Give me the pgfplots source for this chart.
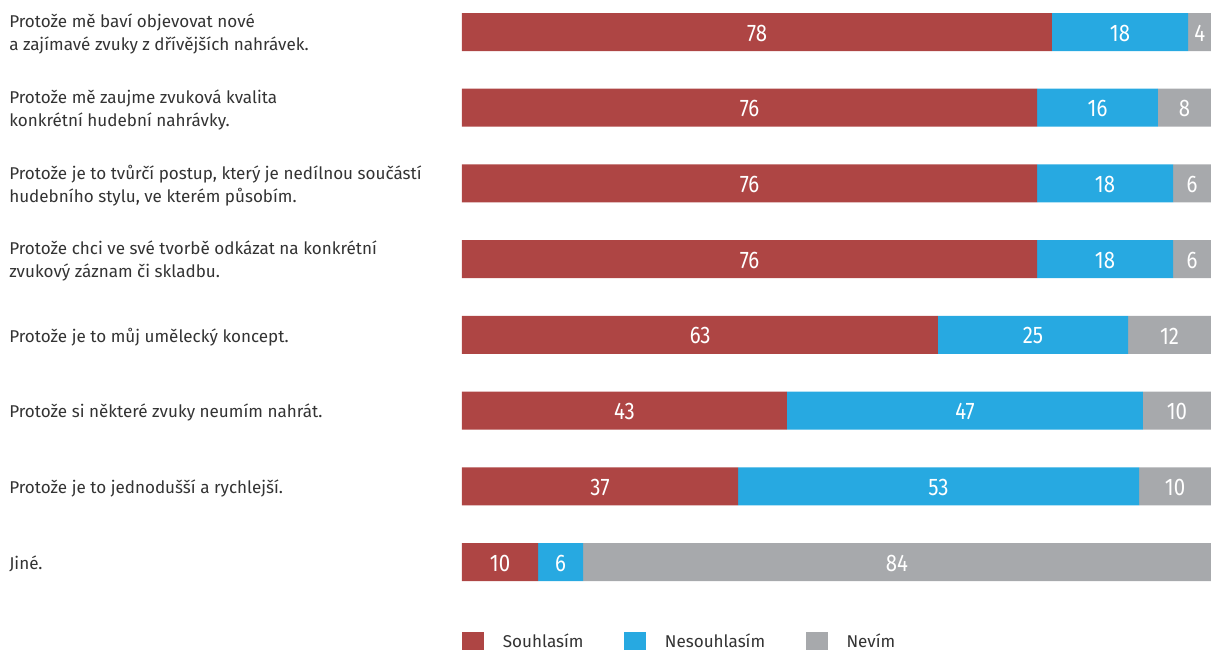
\documentclass[border=0pt]{standalone}
\usepackage{pgfplots}
\pgfplotsset{compat=1.18}
\usepackage{pgfplotstable}
\usepackage{fontspec}
\setmainfont{Fira Sans}
\newfontfamily\numfont[FakeStretch=0.85]{Fira Sans}

\definecolor{cagree}{HTML}{AE4544}
\definecolor{cdis}{HTML}{27A9E1}
\definecolor{cdk}{HTML}{A7A9AC}
\definecolor{ctext}{HTML}{333333}

% bar lengths as drawn (percent), one row per statement (1 = top)
\pgfplotstableread{
y agree dis dk
1 78.77 18.16 3.07
2 76.77 16.15 7.08
3 76.77 18.16 5.07
4 76.77 18.16 5.07
5 63.55 25.37 11.08
6 43.39 47.53 9.08
7 36.85 53.54 9.61
8 10.15 6.01 83.84
}\data

% printed labels at the middle of each segment
\pgfplotstableread{
x y lab
39.4 1 78
87.85 1 18
98.5 1 4
38.4 2 76
84.85 2 16
96.46 2 8
38.4 3 76
85.85 3 18
97.46 3 6
38.4 4 76
85.85 4 18
97.46 4 6
31.8 5 63
76.24 5 25
94.46 5 12
21.7 6 43
67.16 6 47
95.46 6 10
18.43 7 37
63.62 7 53
95.2 7 10
5.08 8 10
13.15 8 6
58.08 8 84
}\labs

\pgfplotsset{
  frame/.style={
    at={(346.5pt,4.39pt)}, anchor=north west,
    width=561.75pt, height=454.3pt, scale only axis,
    xmin=0, xmax=100, ymin=0.5, ymax=8.5, y dir=reverse,
    clip=false,
  }
}

\begin{document}
\begin{tikzpicture}
\begin{axis}[
  frame,
  xbar stacked, bar width=28.5pt,
  hide x axis,
  axis y line*=left, y axis line style={draw=none},
  major tick length=0pt,
  ytick={1,...,8},
  yticklabels={
    {Protože mě baví objevovat nové\\a zajímavé zvuky z dřívějších nahrávek.},
    {Protože mě zaujme zvuková kvalita\\konkrétní hudební nahrávky.},
    {Protože je to tvůrčí postup, který je nedílnou součástí\\hudebního stylu, ve kterém působím.},
    {Protože chci ve své tvorbě odkázat na konkrétní\\zvukový záznam či skladbu.},
    {Protože je to můj umělecký koncept.},
    {Protože si některé zvuky neumím nahrát.},
    {Protože je to jednodušší a rychlejší.},
    {Jiné.}
  },
  yticklabel style={anchor=west, align=left, inner sep=0pt, xshift=-339.75pt,
    yshift=-1.5pt, text=ctext, font=\fontsize{12.8}{17.25}\selectfont},
  legend columns=3,
  legend image code/.code={\fill[#1] (0pt,-7.5pt) rectangle (16.5pt,7.5pt);},
  legend style={at={(0,-0.052)}, anchor=north west, draw=none, inner sep=0pt,
    font=\fontsize{12.8}{14}\selectfont, text=ctext,
    nodes={inner sep=0pt},
    /tikz/every odd column/.append style={column sep=14pt},
    /tikz/every even column/.append style={column sep=30.5pt}},
]
\addplot[fill=cagree, draw=none] table[x=agree, y=y] {\data};
\addplot[fill=cdis, draw=none] table[x=dis, y=y] {\data};
\addplot[fill=cdk, draw=none] table[x=dk, y=y] {\data};
\legend{Souhlasím, Nesouhlasím, Nevím}
\end{axis}
\begin{axis}[frame, hide axis]
\addplot[only marks, mark=none, nodes near coords, point meta=explicit symbolic,
  every node near coord/.style={anchor=center, text=white, inner sep=0pt,
    yshift=-0.8pt, font=\numfont\fontsize{18}{18}\selectfont}]
  table[x=x, y=y, meta=lab] {\labs};
\end{axis}
\pgfresetboundingbox
\path (0,0) rectangle (908.25pt,-487.5pt);
\end{tikzpicture}
\end{document}
